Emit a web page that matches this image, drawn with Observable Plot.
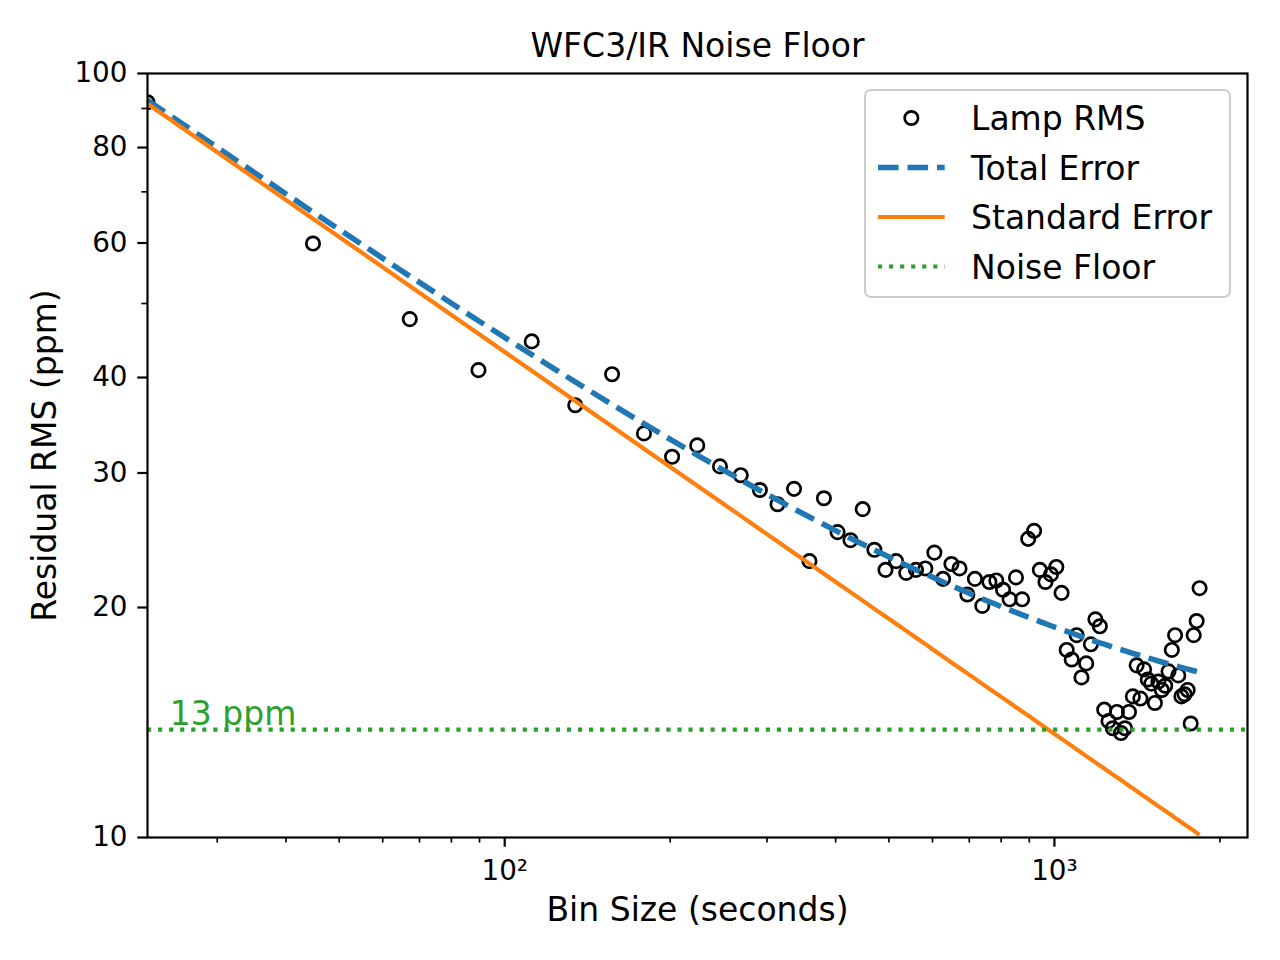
<!DOCTYPE html>
<html><head><meta charset="utf-8">
<script src="https://cdn.jsdelivr.net/npm/d3@7"></script>
<script src="https://cdn.jsdelivr.net/npm/@observablehq/plot@0.6"></script>
<style>
body{margin:0;background:white;font-family:"DejaVu Sans",sans-serif;}
#wrap{position:relative;width:1280px;height:960px;}
#legend{position:absolute;left:864px;top:89px;width:367px;height:209px;box-sizing:border-box;border:2px solid #cccccc;border-radius:7px;background:rgba(255,255,255,0.8);}
#legend svg{position:absolute;left:0;top:0;overflow:visible;}
</style></head><body><div id="wrap"></div>
<script>
const binSize = [22.4, 44.8, 67.2, 89.6, 112, 134.4, 156.8, 179.2, 201.6, 224,
  246.4, 268.8, 291.2, 313.6, 336, 358.4, 380.8, 403.2, 425.6, 448,
  470.4, 492.8, 515.2, 537.6, 560, 582.4, 604.8, 627.2, 649.6, 672,
  694.4, 716.8, 739.2, 761.6, 784, 806.4, 828.8, 851.2, 873.6, 896,
  918.4, 940.8, 963.2, 985.6, 1008, 1030.4, 1052.8, 1075.2, 1097.6, 1120,
  1142.4, 1164.8, 1187.2, 1209.6, 1232, 1254.4, 1276.8, 1299.2, 1321.6, 1344,
  1366.4, 1388.8, 1411.2, 1433.6, 1456, 1478.4, 1500.8, 1523.2, 1545.6, 1568,
  1590.4, 1612.8, 1635.2, 1657.6, 1680, 1702.4, 1724.8, 1747.2, 1769.6, 1792,
  1814.4, 1836.8];
const lampRMS = [91.7, 59.9, 47.7, 40.9, 44.6, 36.8, 40.4, 33.8, 31.5, 32.6,
  30.6, 29.8, 28.5, 27.3, 28.6, 23.0, 27.8, 25.1, 24.5, 26.9,
  23.8, 22.4, 23.0, 22.2, 22.4, 22.5, 23.6, 21.8, 22.8, 22.5,
  20.8, 21.8, 20.1, 21.6, 21.7, 21.1, 20.5, 21.9, 20.5, 24.6,
  25.2, 22.4, 21.6, 22.1, 22.6, 20.9, 17.6, 17.1, 18.4, 16.2,
  16.9, 17.9, 19.3, 18.9, 14.7, 14.2, 13.9, 14.6, 13.7, 13.9,
  14.6, 15.3, 16.8, 15.2, 16.6, 16.1, 15.9, 15.0, 16.0, 15.6,
  15.8, 16.5, 17.6, 18.4, 16.3, 15.3, 15.4, 15.6, 14.1, 18.4,
  19.2, 21.2];
const totalError = [92.22, 65.85, 54.29, 47.46, 42.85, 39.48, 36.88, 34.80, 33.09, 31.66,
  30.44, 29.39, 28.46, 27.65, 26.92, 26.27, 25.68, 25.14, 24.65, 24.20,
  23.79, 23.41, 23.05, 22.72, 22.41, 22.13, 21.86, 21.60, 21.36, 21.14,
  20.93, 20.72, 20.53, 20.35, 20.18, 20.01, 19.86, 19.71, 19.56, 19.43,
  19.30, 19.17, 19.05, 18.93, 18.82, 18.71, 18.61, 18.51, 18.42, 18.32,
  18.23, 18.15, 18.06, 17.98, 17.91, 17.83, 17.75, 17.68, 17.62, 17.55,
  17.48, 17.42, 17.36, 17.30, 17.24, 17.18, 17.13, 17.08, 17.02, 16.97,
  16.92, 16.88, 16.83, 16.78, 16.74, 16.69, 16.65, 16.61, 16.57, 16.53,
  16.49, 16.45];
const standardError = [91.3, 64.56, 52.71, 45.65, 40.83, 37.27, 34.51, 32.28, 30.43, 28.87,
  27.53, 26.36, 25.32, 24.40, 23.57, 22.83, 22.14, 21.52, 20.95, 20.42,
  19.92, 19.47, 19.04, 18.64, 18.26, 17.91, 17.57, 17.25, 16.95, 16.67,
  16.40, 16.14, 15.89, 15.66, 15.43, 15.22, 15.01, 14.81, 14.62, 14.44,
  14.26, 14.09, 13.92, 13.76, 13.61, 13.46, 13.32, 13.18, 13.04, 12.91,
  12.78, 12.66, 12.54, 12.42, 12.31, 12.20, 12.09, 11.99, 11.89, 11.79,
  11.69, 11.60, 11.50, 11.41, 11.32, 11.24, 11.15, 11.07, 10.99, 10.91,
  10.84, 10.76, 10.69, 10.61, 10.54, 10.47, 10.40, 10.34, 10.27, 10.21,
  10.14, 10.08];
const noiseFloor = 13.84;
const noiseLabel = "13 ppm";
const noiseLabelX = 24.6;
const yMajorTicks = [10, 20, 30, 40, 60, 80, 100];
const yMinorTicks = [50, 70, 90];
const xMajorTicks = [100, 1000];
const xMajorLabels = ["10²", "10³"];
const xMinorTicks = [30, 40, 50, 60, 70, 80, 90, 200, 300, 400, 500, 600, 700, 800, 900, 2000];
const seriesNames = ["Lamp RMS", "Total Error", "Standard Error", "Noise Floor"];
const titleText = "WFC3/IR Noise Floor";
const xLabelText = "Bin Size (seconds)";
const yLabelText = "Residual RMS (ppm)";

const BLUE = "#1f77b4", ORANGE = "#ff7f0e", GREEN = "#2ca02c";
const DOT_R = 6.7;

const points = binSize.map((b, i) => ({bin: b, rms: lampRMS[i], total: totalError[i], se: standardError[i]}));
const annot = [{x: noiseLabelX, y: noiseFloor, text: noiseLabel}];

const chart = Plot.plot({
  width: 1280, height: 960,
  marginLeft: 147, marginRight: 33, marginTop: 73, marginBottom: 123,
  style: {fontFamily: "DejaVu Sans", background: "white", color: "black", overflow: "visible"},
  x: {type: "log", domain: [22.4, 2245]},
  y: {type: "log", domain: [10, 100]},
  marks: [
    Plot.dot(points, {x: "bin", y: "rms", r: DOT_R, stroke: "black", strokeWidth: 2.7, fill: "none", clip: true}),
    Plot.line(points, {x: "bin", y: "total", stroke: BLUE, strokeWidth: 5.56, strokeDasharray: "20.6,8.9", strokeLinecap: "butt", clip: true}),
    Plot.line(points, {x: "bin", y: "se", stroke: ORANGE, strokeWidth: 4.17, strokeLinecap: "butt", clip: true}),
    Plot.ruleY([noiseFloor], {stroke: GREEN, strokeWidth: 4.17, strokeDasharray: "4.17,6.88"}),
    Plot.text(annot, {x: "x", y: "y", text: "text", textAnchor: "start", lineAnchor: "bottom", dy: -4.5, fill: GREEN, fontSize: 33}),
    Plot.axisY({ticks: yMajorTicks, tickSize: 9.7, tickPadding: 10.3, tickFormat: d => String(d), fontSize: 27.8, strokeWidth: 2.2, label: null}),
    Plot.axisY({ticks: yMinorTicks, tickSize: 5.6, tickFormat: () => "", strokeWidth: 1.67, label: null}),
    Plot.axisX({ticks: xMajorTicks, tickSize: 9.7, tickPadding: 12.6, tickFormat: d => xMajorLabels[xMajorTicks.indexOf(d)], fontSize: 27.8, strokeWidth: 2.2, label: null}),
    Plot.axisX({ticks: xMinorTicks, tickSize: 5.6, tickFormat: () => "", strokeWidth: 1.67, label: null}),
    Plot.frame({stroke: "black", strokeWidth: 2.2}),
    Plot.text([titleText], {text: d => d, frameAnchor: "top", dy: -17, lineAnchor: "bottom", fontSize: 33}),
    Plot.text([xLabelText], {text: d => d, frameAnchor: "bottom", dy: 83, lineAnchor: "bottom", fontSize: 33}),
    Plot.text([yLabelText], {text: d => d, frameAnchor: "left", dx: -102, rotate: -90, textAnchor: "middle", fontSize: 33})
  ]
});
const wrap = document.getElementById("wrap");
wrap.appendChild(chart);

// Legend overlay
const leg = document.createElement("div");
leg.id = "legend";
wrap.appendChild(leg);
const svg = d3.select(leg).append("svg").attr("width", 363).attr("height", 205);
const rowBase = [39, 88.5, 138, 187.5];
const rowMid = rowBase.map(b => b - 12);
const hx0 = 12, hx1 = 78.7;
seriesNames.forEach((name, i) => {
  const yb = rowBase[i], ym = rowMid[i];
  if (i === 0) {
    svg.append("circle").attr("cx", (hx0 + hx1) / 2).attr("cy", ym).attr("r", DOT_R)
      .attr("fill", "none").attr("stroke", "black").attr("stroke-width", 2.7);
  } else if (i === 1) {
    svg.append("line").attr("x1", hx0).attr("x2", hx1).attr("y1", ym).attr("y2", ym)
      .attr("stroke", BLUE).attr("stroke-width", 5.56).attr("stroke-dasharray", "20.6,8.9");
  } else if (i === 2) {
    svg.append("line").attr("x1", hx0).attr("x2", hx1).attr("y1", ym).attr("y2", ym)
      .attr("stroke", ORANGE).attr("stroke-width", 4.17);
  } else {
    svg.append("line").attr("x1", hx0).attr("x2", hx1).attr("y1", ym).attr("y2", ym)
      .attr("stroke", GREEN).attr("stroke-width", 4.17).attr("stroke-dasharray", "4.17,6.88");
  }
  svg.append("text").attr("x", 105).attr("y", yb).text(name)
    .attr("font-family", "DejaVu Sans").attr("font-size", 33).attr("fill", "black");
});
</script>
</body></html>
